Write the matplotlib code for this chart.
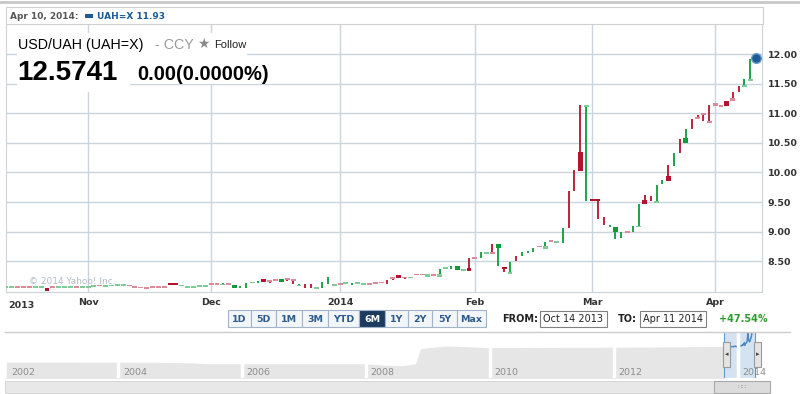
import numpy as np
import pandas as pd
import matplotlib
matplotlib.use('Agg')
import matplotlib.pyplot as plt
from matplotlib.patches import Rectangle

# Jours de cotation (lun-ven) du 14 oct 2013 au 10 avr 2014
dates = pd.bdate_range('2013-10-14', '2014-04-10')

# Bougies USD/UAH : ouverture, haut, bas, clôture, sens (1 = hausse)
opens = [8.07, 8.07, 8.06, 8.06, 8.06, 8.07, 8.07, 8.05, 8.06, 8.065,
         8.065, 8.07, 8.07, 8.07, 8.07, 8.08, 8.09, 8.08, 8.09, 8.09,
         8.10, 8.09, 8.07, 8.07, 8.05, 8.08, 8.08, 8.08, 8.14, 8.14,
         8.09, 8.07, 8.07, 8.08, 8.07, 8.11, 8.11, 8.09, 8.13, 8.04,
         8.06, 8.09, 8.13, 8.15, 8.20, 8.17, 8.20, 8.15, 8.21, 8.20,
         8.08, 8.08, 8.08, 8.04, 8.10, 8.17, 8.09, 8.13, 8.13, 8.11,
         8.13, 8.11, 8.13, 8.13, 8.15, 8.15, 8.23, 8.27, 8.24, 8.21,
         8.29, 8.29, 8.24, 8.28, 8.24, 8.38, 8.40, 8.35, 8.34, 8.39,
         8.56, 8.60, 8.63, 8.66, 8.73, 8.41, 8.29, 8.55, 8.62, 8.66,
         8.70, 8.75, 8.71, 8.84, 8.83, 8.93, 9.40, 9.85, 10.34, 11.11,
         9.55, 9.55, 9.17, 9.09, 8.99, 8.95, 9.00, 9.05, 9.07, 9.53,
         9.56, 9.49, 9.83, 9.94, 10.20, 10.45, 10.50, 10.82, 10.94, 11.00,
         10.87, 11.17, 11.12, 11.21, 11.25, 11.41, 11.45, 11.55, 11.93]
highs = [8.07, 8.07, 8.06, 8.06, 8.06, 8.07, 8.07, 8.05, 8.06, 8.065,
         8.065, 8.07, 8.07, 8.07, 8.07, 8.08, 8.09, 8.08, 8.09, 8.11,
         8.10, 8.09, 8.07, 8.07, 8.05, 8.08, 8.08, 8.08, 8.14, 8.14,
         8.09, 8.07, 8.07, 8.08, 8.10, 8.11, 8.11, 8.13, 8.14, 8.09,
         8.08, 8.14, 8.15, 8.17, 8.20, 8.18, 8.20, 8.20, 8.22, 8.20,
         8.11, 8.11, 8.11, 8.06, 8.15, 8.23, 8.11, 8.13, 8.13, 8.13,
         8.13, 8.11, 8.13, 8.13, 8.15, 8.19, 8.23, 8.27, 8.24, 8.24,
         8.29, 8.29, 8.28, 8.28, 8.37, 8.38, 8.42, 8.42, 8.37, 8.55,
         8.56, 8.65, 8.65, 8.79, 8.79, 8.41, 8.49, 8.59, 8.66, 8.68,
         8.73, 8.75, 8.83, 8.84, 8.83, 9.06, 9.69, 10.04, 11.14, 11.14,
         9.55, 9.55, 9.24, 9.11, 9.07, 9.00, 9.00, 9.09, 9.46, 9.62,
         9.60, 9.79, 9.87, 10.12, 10.32, 10.56, 10.73, 10.91, 10.97, 11.00,
         11.14, 11.17, 11.12, 11.21, 11.36, 11.46, 11.57, 11.91, 11.93]
lows = [8.07, 8.07, 8.06, 8.06, 8.06, 8.07, 8.07, 7.99, 8.06, 8.065,
        8.065, 8.07, 8.07, 8.07, 8.07, 8.08, 8.09, 8.08, 8.09, 8.09,
        8.10, 8.09, 8.07, 8.04, 8.05, 8.05, 8.05, 8.05, 8.10, 8.10,
        8.09, 8.07, 8.07, 8.08, 8.07, 8.11, 8.11, 8.09, 8.10, 8.04,
        8.05, 8.04, 8.13, 8.14, 8.15, 8.14, 8.17, 8.15, 8.17, 8.12,
        8.08, 8.05, 8.05, 8.04, 8.04, 8.11, 8.09, 8.10, 8.13, 8.09,
        8.13, 8.11, 8.11, 8.13, 8.13, 8.11, 8.19, 8.22, 8.20, 8.21,
        8.26, 8.26, 8.24, 8.26, 8.24, 8.38, 8.37, 8.35, 8.34, 8.34,
        8.55, 8.55, 8.63, 8.63, 8.42, 8.31, 8.29, 8.50, 8.58, 8.64,
        8.66, 8.75, 8.71, 8.84, 8.83, 8.81, 9.06, 9.69, 10.03, 9.52,
        9.51, 9.22, 9.11, 9.07, 8.87, 8.90, 9.00, 9.00, 9.07, 9.46,
        9.52, 9.49, 9.80, 9.86, 10.11, 10.32, 10.50, 10.73, 10.90, 10.87,
        10.84, 11.13, 11.12, 11.13, 11.21, 11.36, 11.45, 11.55, 11.93]
closes = [8.07, 8.07, 8.06, 8.06, 8.06, 8.07, 8.07, 7.99, 8.06, 8.065,
          8.065, 8.07, 8.07, 8.07, 8.07, 8.08, 8.09, 8.08, 8.09, 8.11,
          8.10, 8.09, 8.07, 8.04, 8.05, 8.05, 8.05, 8.05, 8.10, 8.10,
          8.09, 8.07, 8.07, 8.08, 8.09, 8.11, 8.11, 8.12, 8.11, 8.09,
          8.06, 8.09, 8.15, 8.15, 8.15, 8.15, 8.17, 8.20, 8.18, 8.17,
          8.10, 8.08, 8.08, 8.06, 8.10, 8.17, 8.11, 8.10, 8.13, 8.11,
          8.13, 8.11, 8.11, 8.13, 8.13, 8.15, 8.20, 8.22, 8.21, 8.24,
          8.26, 8.26, 8.28, 8.26, 8.28, 8.38, 8.40, 8.42, 8.37, 8.34,
          8.55, 8.60, 8.65, 8.63, 8.79, 8.37, 8.32, 8.55, 8.62, 8.66,
          8.70, 8.75, 8.75, 8.84, 8.83, 8.93, 9.40, 9.85, 10.03, 11.14,
          9.51, 9.51, 9.17, 9.09, 9.07, 8.95, 9.00, 9.05, 9.10, 9.46,
          9.56, 9.52, 9.83, 9.86, 10.20, 10.45, 10.58, 10.82, 10.90, 10.97,
          10.84, 11.13, 11.12, 11.13, 11.21, 11.41, 11.48, 11.58, 11.93]
ups = [1, 1, 0, 0, 0, 1, 1, 0, 0, 1, 1, 1, 0, 1, 1, 1, 0, 1, 1, 1,
       1, 0, 0, 0, 0, 0, 0, 0, 0, 0, 1, 1, 1, 1, 1, 0, 0, 1, 0, 1,
       1, 1, 1, 1, 0, 0, 0, 1, 0, 0, 1, 0, 0, 1, 1, 1, 1, 0, 1, 1,
       1, 1, 0, 0, 0, 0, 0, 0, 0, 1, 0, 0, 1, 0, 1, 1, 1, 1, 1, 0,
       0, 1, 1, 0, 1, 0, 1, 0, 1, 1, 1, 0, 1, 0, 1, 1, 0, 0, 0, 1,
       0, 0, 0, 1, 1, 1, 0, 1, 1, 0, 0, 1, 1, 0, 1, 0, 1, 0, 0, 0,
       0, 0, 0, 0, 0, 0, 1, 1, 1]

y_ticks = [8.50, 9.00, 9.50, 10.00, 10.50, 11.00, 11.50, 12.00]
last_quote = 11.93

# Navigateur (historique depuis 2002)
nav_years = [2002.2, 2003.0, 2004.0, 2004.6, 2005.2, 2005.4, 2006.0, 2007.0,
             2008.0, 2008.3, 2008.6, 2008.8, 2008.88, 2009.0, 2009.3,
             2009.6, 2009.9, 2010.5, 2011.0, 2012.0, 2013.0, 2013.78]
nav_vals = [5.33, 5.33, 5.32, 5.30, 5.20, 5.05, 5.05, 5.05,
            5.05, 4.80, 4.70, 5.00, 7.70, 7.90, 8.20,
            8.10, 7.95, 7.95, 7.97, 7.99, 8.05, 8.15]
nav_labels = ['2002', '2004', '2006', '2008', '2010', '2012', '2014']
boutons = ['1D', '5D', '1M', '3M', 'YTD', '6M', '1Y', '2Y', '5Y', 'Max']

W, H = 800, 394
fig = plt.figure(figsize=(8, 3.94), dpi=100)


def px_axes(x0, y0, x1, y1, **kw):
    return fig.add_axes([x0 / W, 1 - y1 / H, (x1 - x0) / W, (y1 - y0) / H], **kw)


VERT, ROUGE = '#0e9a3c', '#b4132e'
VERT_C, ROSE = '#7fcb96', '#dc8a99'
GRILLE = '#c9d4dc'

# --- Graphique principal ---
ax = px_axes(6, 24, 762, 292)
n = len(dates)
x = np.arange(n)
for i in x:
    o, h, l, c = opens[i], highs[i], lows[i], closes[i]
    petit = abs(o - c) <= 0.04
    if ups[i]:
        col = VERT_C if petit else VERT
    else:
        col = ROSE if petit else ROUGE
    if h > l:
        ax.plot([i, i], [l, h], color=VERT if ups[i] else ROUGE, lw=1.3, zorder=3,
                solid_capstyle='butt')
    if o != c or h == l:
        bas, haut = min(o, c), max(o, c)
        if haut - bas < 0.03:
            m = (haut + bas) / 2
            bas, haut = m - 0.015, m + 0.015
        ax.add_patch(Rectangle((i - 0.42, bas), 0.84, haut - bas, facecolor=col,
                               edgecolor='none', zorder=4))

ax.plot(n - 1, last_quote, 'o', ms=7, color='#1d5a96', mec='#6f9cc8', mew=1, zorder=6)

ax.set_xlim(0, 129)
ax.set_ylim(7.98, 12.507)
ax.set_yticks(y_ticks)
ax.set_yticklabels(['%.2f' % v for v in y_ticks])
ax.yaxis.tick_right()

mois = [i for i in range(1, n) if dates[i].month != dates[i - 1].month]
etiq = [str(dates[i].year) if dates[i].month == 1 else dates[i].strftime('%b') for i in mois]
ax.set_xticks(mois)
ax.set_xticklabels(etiq)
ax.tick_params(length=0, labelsize=6.8, colors='#333333', pad=4)
for t in ax.get_xticklabels() + ax.get_yticklabels():
    t.set_fontweight('bold')
ax.grid(True, color=GRILLE, lw=1)
ax.set_axisbelow(True)
for s in ax.spines.values():
    s.set_visible(False)
ax.spines['bottom'].set_visible(True)
ax.spines['bottom'].set_color(GRILLE)
ax.spines['left'].set_visible(True)
ax.spines['left'].set_color(GRILLE)
ax.spines['right'].set_visible(True)
ax.spines['right'].set_color(GRILLE)
ax.text(0.3, -0.035, str(dates[0].year), transform=ax.get_xaxis_transform(),
        ha='left', va='top', fontsize=6.8, fontweight='bold', color='#333333')
ax.text(0.03, 0.03, '\u00a9 2014 Yahoo! Inc.', transform=ax.transAxes, fontsize=6.5,
        color='#b3bcc6', zorder=5)

# --- Navigateur ---
nav = px_axes(5, 332, 762, 378)
nav.fill_between(nav_years, nav_vals, 0, color='#e6e6e6', lw=0)
nav_x = 2013.78 + x / n * 0.5
nav.axvspan(2013.78, 2014.28, color='#d3e3f2', lw=0)
nav.plot(nav_x, closes, color='#4d86c0', lw=1)
for yr in range(2004, 2015, 2):
    nav.axvline(yr, color='white', lw=2.5)
for lab in nav_labels:
    xl = max(float(lab), 2002.2) + 0.08
    nav.text(xl, 3.4, lab, fontsize=6.8, color='#8c8c8c', va='center')
nav.axvline(2013.78, color='#5b9bd5', lw=0.8)
nav.axvline(2014.28, color='#5b9bd5', lw=0.8)
nav.set_xlim(2002.18, 2014.39)
nav.set_ylim(2.5, 10.7)
nav.axis('off')

# --- Couche de textes et d'éléments d'interface (pixels) ---
ov = px_axes(0, 0, W, H, zorder=10)
ov.set_xlim(0, W)
ov.set_ylim(H, 0)
ov.axis('off')
ov.patch.set_alpha(0)

ov.plot([0, W], [1.5, 1.5], color='#c8c8c8', lw=2)
ov.add_patch(Rectangle((6, 7), 757, 17, facecolor='white', edgecolor='#d0d0d0', lw=0.8))
ov.text(10, 16, 'Apr 10, 2014:', fontsize=6.5, fontweight='bold', color='#555555', va='center')
ov.add_patch(Rectangle((85, 14), 8, 4, facecolor='#1d5a96', edgecolor='none'))
ov.text(97, 16, 'UAH=X %.2f' % last_quote, fontsize=6.5, fontweight='bold',
        color='#1d5a96', va='center')

# encadré du titre
ov.add_patch(Rectangle((17, 33), 230, 29, facecolor='white', edgecolor='none'))
ov.add_patch(Rectangle((17, 62), 113, 30, facecolor='white', edgecolor='none'))
ov.add_patch(Rectangle((130, 62), 142, 22, facecolor='white', edgecolor='none'))
ov.text(18, 45, 'USD/UAH (UAH=X)', fontsize=10.3, family='Liberation Sans',
        color='black', va='center')
ov.text(155, 45, '- CCY', fontsize=10.3, family='Liberation Sans', color='#9a9a9a', va='center')
ov.text(197, 44, '\u2605', fontsize=10, color='#8a8a8a', va='center')
ov.text(214, 45, 'Follow', fontsize=8, family='Liberation Sans', color='#222222', va='center')
ov.text(17, 73, '12.5741', fontsize=20, fontweight='bold', family='Liberation Sans',
        color='black', va='center')
ov.text(137, 74, '0.00(0.0000%)', fontsize=14.5, fontweight='bold', family='Liberation Sans',
        color='black', va='center')

# boutons de période
bords = [228, 251, 276, 302, 328, 359, 385, 408, 432, 457, 486]
for k, lab in enumerate(boutons):
    sel = lab == '6M'
    ov.add_patch(Rectangle((bords[k], 310), bords[k + 1] - bords[k], 17,
                           facecolor='#1d3a5f' if sel else '#f3f6f9',
                           edgecolor='#9fb4c8', lw=0.8))
    ov.text((bords[k] + bords[k + 1]) / 2, 319, lab, fontsize=6.8, fontweight='bold',
            color='white' if sel else '#2d5c8c', ha='center', va='center')

ov.text(538, 319, 'FROM:', fontsize=7, fontweight='bold', color='#222222', ha='right', va='center')
ov.add_patch(Rectangle((540, 311), 67, 16, facecolor='white', edgecolor='#808080', lw=0.8))
ov.text(543, 319, dates[0].strftime('%b %d %Y'), fontsize=7, color='#222222', va='center')
ov.text(637, 319, 'TO:', fontsize=7, fontweight='bold', color='#222222', ha='right', va='center')
ov.add_patch(Rectangle((640, 311), 66, 16, facecolor='white', edgecolor='#808080', lw=0.8))
ov.text(643, 319, 'Apr 11 2014', fontsize=7, color='#222222', va='center')
ov.text(719, 319, '+47.54%', fontsize=7, fontweight='bold', color='#2e9a2e', va='center')

# navigateur : trait supérieur, poignées, barre de défilement
ov.plot([5, 790], [332, 332], color='#cccccc', lw=1)
for hx in (723, 754):
    ov.add_patch(Rectangle((hx, 342), 7, 25, facecolor='#e4e4e4', edgecolor='#9a9a9a', lw=0.8))
ov.text(726.5, 354.5, '\u25c2', fontsize=5, color='#444444', ha='center', va='center')
ov.text(757.5, 354.5, '\u25b8', fontsize=5, color='#444444', ha='center', va='center')
ov.add_patch(Rectangle((5, 381), 765, 12, facecolor='#e8e8e8', edgecolor='#d0d0d0', lw=0.6))
ov.add_patch(Rectangle((714, 381), 56, 12, facecolor='#dcdcdc', edgecolor='#a8a8a8', lw=0.8))
ov.text(742, 387, '\u2237\u2237', fontsize=5, color='#999999', ha='center', va='center')

fig.savefig('out.png', dpi=100)
